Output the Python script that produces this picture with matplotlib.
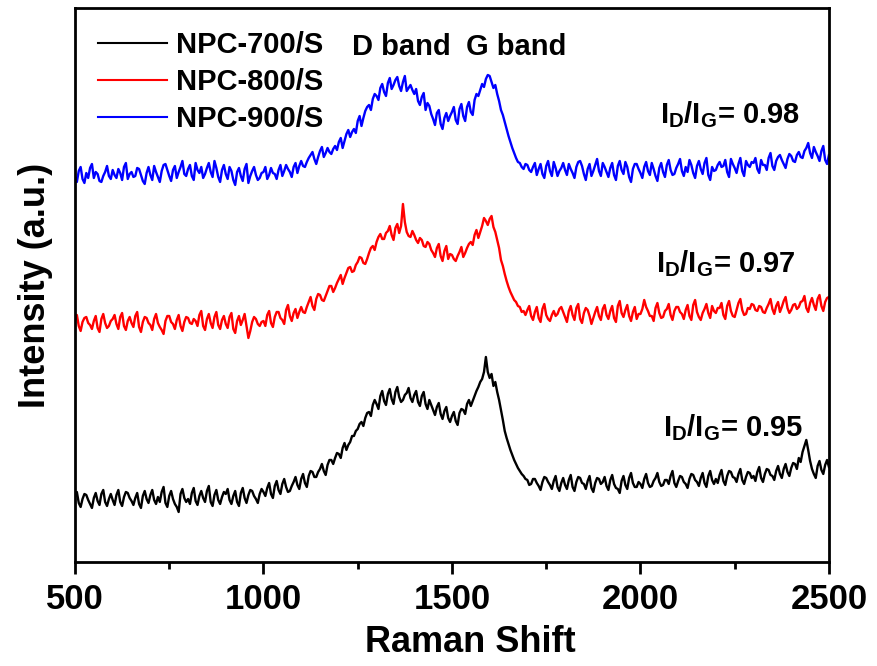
import numpy as np
import matplotlib
matplotlib.use("Agg")
import matplotlib.pyplot as plt

plt.rcParams['font.family'] = ['Liberation Sans', 'DejaVu Sans']
plt.rcParams['font.weight'] = 'bold'
plt.rcParams['mathtext.fontset'] = 'custom'
plt.rcParams['mathtext.bf'] = 'Liberation Sans:bold'
plt.rcParams['mathtext.rm'] = 'Liberation Sans:bold'
plt.rcParams['mathtext.default'] = 'bf'

# Raman shift grid (cm-1), one reading every 5 cm-1
shift = np.arange(500, 2501, 5)

# NPC-900/S (offset trace, top)
npc900 = [
    385, 380, 391, 395, 383, 379, 389, 384, 394, 398, 384, 390, 388, 381, 380, 386, 390, 396, 386, 383,
    392, 387, 384, 393, 389, 382, 395, 399, 383, 388, 390, 385, 386, 394, 393, 387, 381, 378, 389, 395,
    387, 382, 396, 390, 385, 380, 391, 397, 398, 392, 386, 381, 392, 396, 384, 390, 395, 401, 388, 386,
    393, 397, 386, 382, 399, 392, 389, 395, 384, 388, 394, 399, 390, 385, 401, 394, 385, 380, 392, 397,
    388, 383, 395, 391, 382, 377, 390, 394, 386, 381, 393, 398, 379, 386, 391, 395, 387, 382, 384, 389,
    390, 395, 383, 387, 394, 389, 388, 383, 392, 397, 386, 391, 397, 393, 390, 385, 395, 399, 389, 396,
    401, 396, 395, 400, 404, 407, 410, 403, 398, 405, 411, 415, 405, 409, 414, 410, 408, 413, 416, 412,
    420, 424, 414, 421, 428, 432, 425, 430, 433, 429, 441, 446, 436, 444, 451, 455, 457, 452, 463, 468,
    466, 462, 474, 478, 470, 466, 479, 484, 473, 477, 482, 485, 476, 471, 480, 486, 471, 474, 477, 472,
    468, 473, 461, 457, 465, 469, 452, 459, 456, 448, 443, 437, 449, 452, 438, 433, 444, 449, 441, 446,
    450, 455, 442, 438, 453, 458, 446, 441, 455, 460, 450, 447, 462, 468, 466, 472, 478, 475, 483, 487,
    486, 480, 474, 477, 468, 461, 452, 447, 440, 433, 426, 420, 414, 409, 404, 400, 399, 395, 393, 398,
    397, 392, 390, 395, 399, 387, 393, 398, 388, 384, 396, 401, 391, 386, 400, 394, 386, 391, 394, 399,
    392, 387, 398, 393, 389, 384, 395, 400, 401, 396, 388, 382, 393, 398, 386, 391, 397, 403, 391, 386,
    399, 395, 390, 385, 394, 399, 387, 382, 396, 401, 392, 388, 400, 395, 385, 380, 393, 398, 398, 393,
    389, 384, 395, 400, 391, 387, 399, 393, 386, 381, 394, 399, 390, 385, 397, 402, 392, 387, 388, 394,
    398, 403, 391, 386, 395, 390, 402, 397, 389, 384, 396, 401, 393, 388, 399, 404, 387, 382, 395, 391,
    392, 397, 400, 395, 396, 402, 390, 385, 403, 398, 394, 389, 398, 404, 391, 386, 401, 397, 395, 400,
    399, 404, 393, 389, 402, 397, 397, 392, 404, 409, 396, 392, 401, 405, 407, 402, 398, 394, 403, 408,
    406, 401, 400, 407, 410, 405, 404, 411, 414, 419, 409, 404, 415, 410, 406, 401, 411, 416, 402, 398,
    407,
]

# NPC-800/S (offset trace, middle)
npc800 = [
    242, 247, 236, 231, 240, 244, 245, 239, 237, 233, 241, 246, 234, 230, 243, 248, 239, 234, 236, 241,
    243, 247, 238, 233, 245, 249, 236, 232, 241, 245, 239, 235, 246, 250, 235, 230, 240, 245, 244, 239,
    237, 232, 243, 248, 239, 235, 232, 228, 241, 246, 246, 240, 238, 233, 242, 247, 236, 231, 240, 245,
    244, 239, 238, 243, 241, 236, 247, 251, 236, 232, 243, 248, 239, 234, 245, 250, 237, 233, 242, 246,
    238, 234, 245, 249, 233, 229, 241, 246, 237, 242, 248, 236, 224, 231, 240, 245, 243, 238, 236, 240,
    241, 236, 247, 251, 239, 235, 245, 250, 250, 244, 242, 238, 252, 257, 246, 241, 249, 253, 244, 250,
    255, 250, 249, 255, 260, 265, 256, 252, 263, 268, 267, 262, 261, 266, 271, 276, 276, 270, 274, 279,
    283, 287, 278, 284, 289, 294, 295, 290, 291, 297, 300, 305, 304, 299, 298, 303, 309, 314, 316, 312,
    320, 325, 328, 323, 323, 329, 331, 336, 327, 322, 334, 338, 329, 336, 358, 340, 330, 326, 325, 331,
    327, 322, 319, 324, 322, 316, 315, 320, 318, 312, 309, 305, 314, 318, 306, 301, 311, 316, 303, 308,
    307, 303, 301, 306, 310, 315, 305, 309, 314, 318, 320, 317, 327, 332, 324, 330, 336, 344, 341, 337,
    343, 346, 335, 330, 322, 314, 302, 296, 288, 281, 275, 270, 266, 262, 260, 256, 255, 250, 251, 247,
    252, 256, 246, 242, 250, 255, 244, 240, 253, 258, 247, 243, 241, 247, 251, 246, 248, 253, 255, 250,
    245, 240, 251, 256, 247, 242, 254, 258, 243, 239, 249, 254, 252, 246, 238, 244, 250, 255, 246, 242,
    253, 257, 247, 243, 251, 256, 244, 240, 256, 261, 249, 245, 252, 257, 246, 241, 250, 255, 243, 248,
    248, 253, 262, 255, 251, 246, 246, 241, 254, 259, 249, 244, 245, 251, 253, 258, 247, 242, 251, 255,
    255, 250, 248, 243, 252, 257, 246, 242, 257, 262, 250, 245, 242, 249, 253, 258, 249, 244, 256, 251,
    249, 254, 254, 259, 247, 243, 256, 261, 251, 246, 245, 252, 259, 263, 252, 247, 248, 254, 253, 258,
    257, 252, 251, 256, 255, 250, 249, 254, 258, 263, 253, 248, 256, 260, 250, 255, 261, 265, 254, 249,
    252, 257, 258, 253, 255, 260, 261, 266, 254, 250, 259, 264, 257, 252, 263, 267, 256, 251, 260, 264,
    265,
]

# NPC-700/S (bottom trace)
npc700 = [
    65, 70, 59, 55, 63, 68, 67, 62, 58, 54, 64, 69, 61, 57, 68, 72, 60, 56, 63, 68,
    62, 57, 67, 72, 60, 56, 65, 70, 69, 64, 61, 57, 64, 69, 58, 54, 66, 71, 63, 59,
    67, 72, 62, 58, 65, 60, 70, 75, 59, 55, 66, 71, 63, 58, 55, 50, 68, 73, 64, 60,
    63, 58, 69, 74, 61, 57, 66, 71, 64, 60, 71, 76, 60, 56, 67, 72, 62, 58, 65, 70,
    68, 73, 62, 58, 66, 71, 60, 56, 69, 74, 64, 59, 67, 72, 71, 66, 63, 59, 68, 73,
    70, 66, 74, 79, 68, 64, 76, 81, 72, 68, 78, 83, 75, 70, 71, 76, 80, 85, 77, 73,
    83, 88, 79, 75, 86, 91, 90, 85, 85, 90, 93, 98, 91, 87, 97, 102, 102, 98, 104, 109,
    108, 104, 114, 119, 112, 117, 120, 126, 126, 131, 133, 138, 140, 136, 144, 149, 150, 146, 157, 162,
    158, 153, 166, 171, 161, 157, 168, 173, 163, 158, 170, 175, 165, 160, 162, 167, 169, 174, 164, 160,
    167, 171, 160, 156, 166, 170, 158, 153, 162, 157, 152, 147, 155, 159, 148, 143, 151, 155, 144, 140,
    146, 150, 141, 137, 149, 153, 152, 148, 158, 162, 156, 161, 166, 171, 175, 180, 183, 190, 205, 190,
    184, 188, 176, 180, 170, 162, 152, 142, 131, 124, 118, 112, 107, 102, 98, 94, 91, 88, 86, 83,
    82, 77, 78, 83, 83, 79, 76, 72, 80, 85, 84, 80, 77, 73, 81, 86, 75, 71, 79, 84,
    77, 73, 82, 87, 75, 71, 80, 85, 84, 79, 78, 73, 81, 86, 74, 70, 79, 84, 83, 78,
    80, 85, 76, 72, 82, 87, 78, 74, 73, 69, 81, 86, 77, 73, 84, 89, 79, 75, 75, 80,
    78, 74, 83, 88, 79, 75, 76, 81, 84, 89, 80, 76, 77, 82, 82, 78, 86, 91, 79, 75,
    81, 86, 85, 80, 78, 74, 83, 88, 87, 82, 80, 76, 84, 89, 79, 75, 86, 91, 82, 78,
    83, 79, 87, 92, 81, 77, 86, 91, 90, 85, 84, 80, 88, 93, 82, 78, 85, 90, 89, 84,
    86, 81, 90, 95, 84, 80, 88, 93, 92, 87, 86, 82, 91, 96, 88, 84, 93, 98, 90, 86,
    94, 99, 98, 93, 104, 100, 110, 116, 122, 112, 101, 93, 88, 84, 96, 101, 92, 88, 97, 102,
    95,
]

labels = ["NPC-700/S", "NPC-800/S", "NPC-900/S"]
colors = ["black", "red", "blue"]
ratios = ["0.95", "0.97", "0.98"]

fig = plt.figure(figsize=(8.77, 6.66), dpi=100)
ax = fig.add_axes([0.0855, 0.1562, 0.8597, 0.8318])

for y, lab, c in zip([npc700, npc800, npc900], labels, colors):
    ax.plot(shift, y, color=c, lw=1.7, label=lab)

ax.set_xlim(500, 2500)
ax.set_ylim(0, 554)
ax.set_xticks([500, 1000, 1500, 2000, 2500])
ax.set_xticks([750, 1250, 1750, 2250], minor=True)
ax.set_yticks([])
for s in ax.spines.values():
    s.set_linewidth(2.0)
ax.tick_params(axis='x', which='major', direction='out', length=8.5, width=2.0,
               labelsize=25, pad=7)
ax.tick_params(axis='x', which='minor', direction='out', length=5, width=2.0)

ax.set_xlabel('Raman Shift', fontsize=26, fontweight='bold')
ax.xaxis.label.set_va('center')
ax.xaxis.set_label_coords(0.524, -0.146)
ax.set_ylabel('Intensity (a.u.)', fontsize=26, fontweight='bold')
ax.yaxis.label.set_va('center')
ax.yaxis.set_label_coords(-0.053, 0.5)

leg = ax.legend(loc='upper left', bbox_to_anchor=(0.0, 1.0), borderaxespad=0.4,
                frameon=False, fontsize=21, handlelength=2.35, handletextpad=0.3,
                labelspacing=0.3)
for h in leg.get_lines():
    h.set_linewidth(1.5)

# band assignments above the peaks
ax.text(1365, 515, 'D band', fontsize=21, ha='center', va='center')
ax.text(1670, 515, 'G band', fontsize=21, ha='center', va='center')

# I_D/I_G ratio labels next to each trace
ratio_pos = [(2061, 134), (2041, 298), (2053, 447)]
for r, (xp, yp) in zip(ratios, ratio_pos):
    ax.text(xp, yp, r'$I_D/I_G$= ' + r, fontsize=21, ha='left', va='center')

fig.savefig('out.png', dpi=100)
